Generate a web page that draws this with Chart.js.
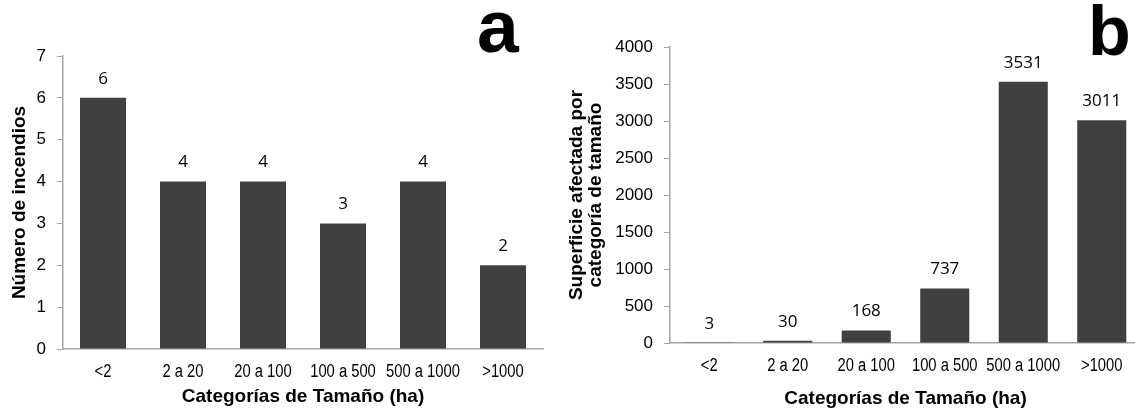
<!DOCTYPE html>
<html lang="es">
<head>
    <meta charset="UTF-8">
    <title>Incendios por categoría de tamaño</title>
    <script src="https://cdn.jsdelivr.net/npm/chart.js"></script>
    <style>
        html, body {
            margin: 0;
            padding: 0;
            background: #ffffff;
            overflow: hidden;
        }
        .page {
            position: relative;
            width: 1135px;
            height: 414px;
            overflow: hidden;
        }
        #chartA {
            position: absolute;
            left: 0;
            top: 0;
        }
        #chartB {
            position: absolute;
            left: 560px;
            top: 0;
        }
    </style>
</head>
<body>
    <div class="page">
        <canvas id="chartA" width="560" height="414"></canvas>
        <canvas id="chartB" width="590" height="414"></canvas>
    </div>

    <script>
        // Size categories (ha)
        const categories = ['<2', '2 a 20', '20 a 100', '100 a 500', '500 a 1000', '>1000'];

        // Panel a: number of fires per size category
        const fireCounts = [6, 4, 4, 3, 4, 2];
        const countAxisMax = 7;
        const countAxisStep = 1;

        // Panel b: burned area per size category
        const burnedArea = [3, 30, 168, 737, 3531, 3011];
        const areaAxisMax = 4000;
        const areaAxisStep = 500;

        const barColor = '#404040';
        const axisColor = '#a6a6a6';
        const sansFamily = '"Liberation Sans", Arial, sans-serif';
        const tickFont = { family: sansFamily, size: 17 };
        const titleFont = { family: sansFamily, size: 19, weight: 'bold' };

        // Writes each bar's value just above its top
        const valueLabels = {
            id: 'valueLabels',
            afterDatasetsDraw(chart) {
                const ctx = chart.ctx;
                const meta = chart.getDatasetMeta(0);
                const values = chart.data.datasets[0].data;
                ctx.save();
                ctx.font = '17px "Open Sans", sans-serif';
                ctx.fillStyle = '#000000';
                ctx.textAlign = 'center';
                ctx.textBaseline = 'middle';
                meta.data.forEach((bar, i) => {
                    ctx.fillText(String(values[i]), bar.x, bar.y - 19);
                });
                ctx.restore();
            }
        };

        // Category labels under the x axis, squeezed like a narrow face
        const narrowCategoryLabels = {
            id: 'narrowCategoryLabels',
            afterDraw(chart) {
                const ctx = chart.ctx;
                const xScale = chart.scales.x;
                const y = chart.chartArea.bottom + 23;
                ctx.save();
                ctx.font = '18px ' + sansFamily;
                ctx.fillStyle = '#000000';
                ctx.textAlign = 'center';
                ctx.textBaseline = 'middle';
                xScale.ticks.forEach((tick, i) => {
                    ctx.save();
                    ctx.translate(xScale.getPixelForTick(i), y);
                    ctx.scale(0.82, 1);
                    ctx.fillText(xScale.getLabelForValue(tick.value), 0, 0);
                    ctx.restore();
                });
                ctx.restore();
            }
        };

        // Big panel letter in the top right corner
        const panelLetter = {
            id: 'panelLetter',
            afterDraw(chart, args, opts) {
                const ctx = chart.ctx;
                ctx.save();
                ctx.font = 'bold ' + opts.size + 'px ' + sansFamily;
                ctx.fillStyle = '#000000';
                ctx.textAlign = 'left';
                ctx.textBaseline = 'alphabetic';
                ctx.fillText(opts.text, opts.x, opts.y);
                ctx.restore();
            }
        };

        function buildChart(canvasId, values, cfg) {
            const ctx = document.getElementById(canvasId).getContext('2d');
            return new Chart(ctx, {
                type: 'bar',
                data: {
                    labels: categories,
                    datasets: [{
                        data: values,
                        backgroundColor: barColor,
                        borderWidth: 0,
                        barPercentage: cfg.barPercentage,
                        categoryPercentage: 1.0
                    }]
                },
                options: {
                    responsive: false,
                    animation: false,
                    devicePixelRatio: 1,
                    layout: {
                        padding: { top: cfg.top, right: cfg.right, left: 0, bottom: 0 }
                    },
                    scales: {
                        x: {
                            grid: { display: false },
                            border: { display: true, color: axisColor, width: 1.5 },
                            ticks: { display: false },
                            title: {
                                display: true,
                                text: 'Categorías de Tamaño (ha)',
                                color: '#000000',
                                font: titleFont,
                                padding: { top: 0, bottom: cfg.xTitlePad }
                            },
                            afterFit(scale) {
                                scale.height = cfg.xAxisHeight;
                            }
                        },
                        y: {
                            min: 0,
                            max: cfg.max,
                            grid: {
                                drawOnChartArea: false,
                                drawTicks: true,
                                tickLength: 6,
                                color: axisColor
                            },
                            border: { display: true, color: axisColor, width: 1.5 },
                            ticks: {
                                stepSize: cfg.step,
                                color: '#000000',
                                font: tickFont,
                                padding: 11,
                                callback: (value) => String(value)
                            },
                            title: {
                                display: true,
                                text: cfg.yTitle,
                                color: '#000000',
                                font: Object.assign({}, titleFont, { lineHeight: cfg.yTitleLineHeight }),
                                padding: { top: cfg.yTitlePad, bottom: 0 }
                            },
                            afterFit(scale) {
                                scale.width = cfg.yAxisWidth;
                            }
                        }
                    },
                    plugins: {
                        legend: { display: false },
                        tooltip: { enabled: false },
                        panelLetter: cfg.letter
                    }
                },
                plugins: [valueLabels, narrowCategoryLabels, panelLetter]
            });
        }

        buildChart('chartA', fireCounts, {
            max: countAxisMax,
            step: countAxisStep,
            barPercentage: 0.575,
            top: 56,
            right: 17,
            yAxisWidth: 63,
            xAxisHeight: 65,
            xTitlePad: 6,
            yTitle: 'Número de incendios',
            yTitleLineHeight: 1.2,
            yTitlePad: 8,
            letter: { text: 'a', x: 477, y: 52, size: 75 }
        });

        buildChart('chartB', burnedArea, {
            max: areaAxisMax,
            step: areaAxisStep,
            barPercentage: 0.625,
            top: 47,
            right: 9,
            yAxisWidth: 110,
            xAxisHeight: 71,
            xTitlePad: 4,
            yTitle: ['Superficie afectada por', 'categoría de tamaño'],
            yTitleLineHeight: 1.0,
            yTitlePad: 7,
            letter: { text: 'b', x: 528, y: 55, size: 70 }
        });
    </script>
</body>
</html>
